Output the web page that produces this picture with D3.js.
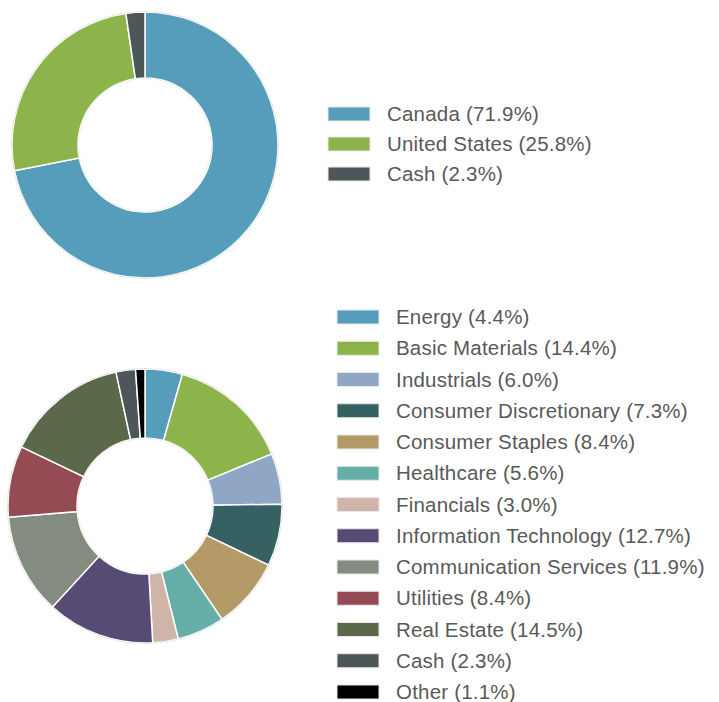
<!DOCTYPE html>
<html>
<head>
<meta charset="utf-8">
<script src="https://cdn.jsdelivr.net/npm/d3@7"></script>
<style>
  body { margin: 0; background: #fff; }
  text { font-family: "Liberation Sans", Arial, sans-serif; }
</style>
</head>
<body>
<div id="chart"></div>
<script>
const regionLabels = ["Canada", "United States", "Cash"];
const regionValues = [71.9, 25.8, 2.3];
const regionColors = ["#559dbb", "#8db44b", "#4d5659"];

const sectorLabels = ["Energy", "Basic Materials", "Industrials", "Consumer Discretionary",
  "Consumer Staples", "Healthcare", "Financials", "Information Technology",
  "Communication Services", "Utilities", "Real Estate", "Cash", "Other"];
const sectorValues = [4.4, 14.4, 6.0, 7.3, 8.4, 5.6, 3.0, 12.7, 11.9, 8.4, 14.5, 2.3, 1.1];
const sectorColors = ["#559dbb", "#8db44b", "#8fa7c4", "#356163", "#b39a66", "#66afa9",
  "#d0b3a9", "#564b75", "#848c80", "#944b53", "#5b694a", "#4d5659", "#000000"];

const width = 719, height = 702;

const svg = d3.select("#chart")
  .append("svg")
    .attr("width", width)
    .attr("height", height);

function drawDonut(labels, values, colors, cx, cy, rOuter, rInner, legendX, legendY, rowStep) {
  const data = labels.map((l, i) => ({label: l, value: values[i], color: colors[i]}));

  const pie = d3.pie().sort(null).value(d => d.value);
  const arc = d3.arc().innerRadius(rInner).outerRadius(rOuter);

  const g = svg.append("g")
    .attr("transform", `translate(${cx},${cy})`);

  g.selectAll("path")
    .data(pie(data))
    .join("path")
      .attr("d", arc)
      .attr("fill", d => d.data.color)
      .attr("stroke", "#ffffff")
      .attr("stroke-width", 1.5);

  // faint outline round the ring
  g.append("circle").attr("r", rOuter + 0.5)
    .attr("fill", "none").attr("stroke", "#e6e6e6").attr("stroke-width", 1);
  g.append("circle").attr("r", rInner - 0.5)
    .attr("fill", "none").attr("stroke", "#eeeeee").attr("stroke-width", 1);

  const y = d3.scaleLinear().domain([0, 1]).range([legendY, legendY + rowStep]);

  const leg = svg.append("g");
  const rows = leg.selectAll("g")
    .data(data)
    .join("g")
      .attr("transform", (d, i) => `translate(${legendX},${y(i)})`);

  rows.append("rect")
    .attr("x", 0)
    .attr("y", -7)
    .attr("width", 42)
    .attr("height", 14)
    .attr("fill", d => d.color)
    .attr("stroke", "#e8e8e8")
    .attr("stroke-width", 1);

  rows.append("text")
    .attr("x", 59)
    .attr("y", 0)
    .attr("dy", "0.35em")
    .attr("fill", "#595959")
    .style("font-size", "20.5px")
    .style("letter-spacing", "0.2px")
    .text(d => `${d.label} (${d.value.toFixed(1)}%)`);
}

drawDonut(regionLabels, regionValues, regionColors, 145, 145, 133, 67, 328, 114, 30);
drawDonut(sectorLabels, sectorValues, sectorColors, 145, 506, 137, 68, 337, 317, 31.25);
</script>
</body>
</html>
